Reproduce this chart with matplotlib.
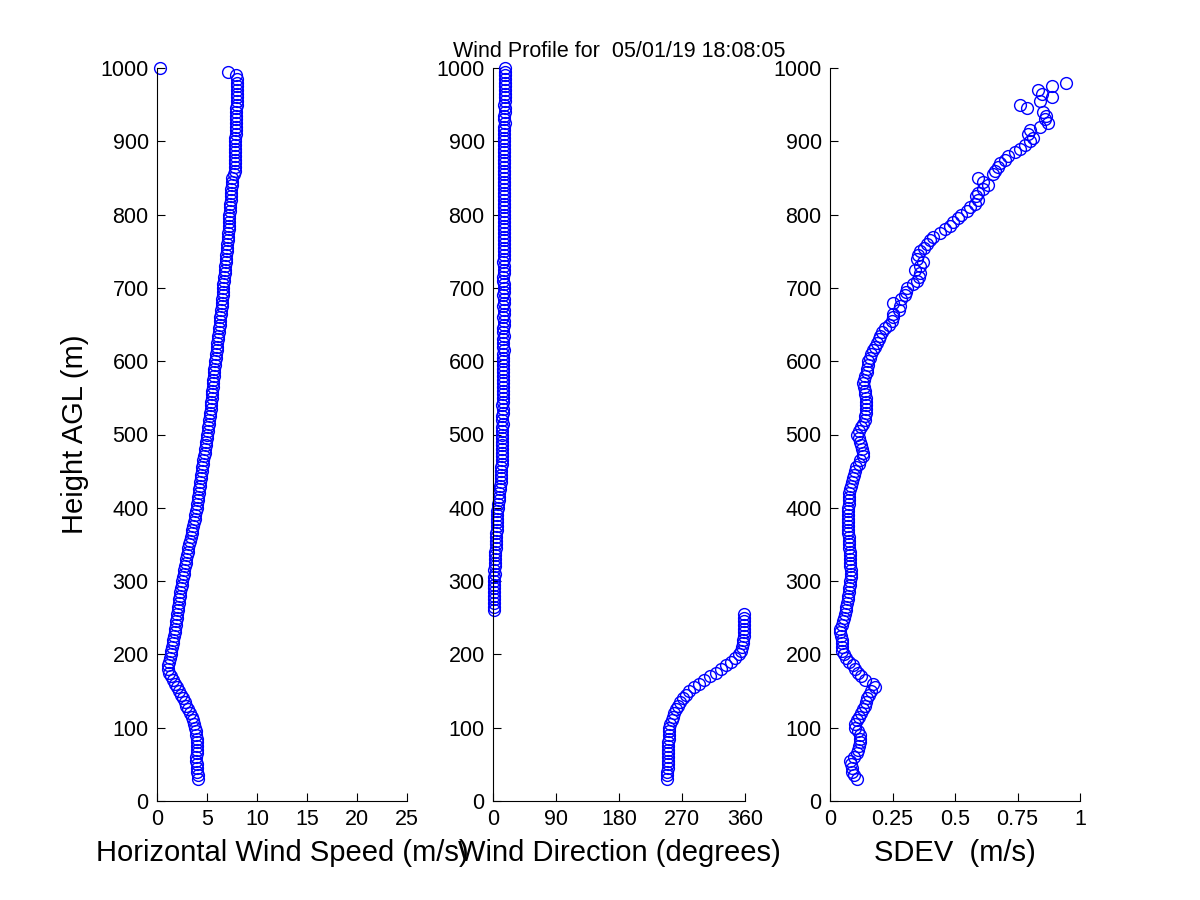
import numpy as np
import matplotlib
matplotlib.use('Agg')
import matplotlib.pyplot as plt

plt.rcParams['font.family'] = ['Liberation Sans', 'DejaVu Sans']

##DATA##########################################################################
title = 'Wind Profile for  05/01/19 18:08:05'

# range gates (m AGL), 5 m apart
heights = np.arange(30, 1001, 5)

speed = [
    4.1, 4.1, 4.0, 4.0, 4.0, 3.9, 3.9, 4.0, 4.0, 4.0,
    4.0, 4.0, 3.9, 3.9, 3.8, 3.7, 3.6, 3.5, 3.3, 3.1,
    2.9, 2.8, 2.6, 2.4, 2.2, 2.0, 1.8, 1.6, 1.4, 1.2,
    1.1, 1.1, 1.2, 1.3, 1.4, 1.4, 1.5, 1.6, 1.6, 1.7,
    1.8, 1.8, 1.9, 1.9, 2.0, 2.0, 2.1, 2.1, 2.2, 2.2,
    2.3, 2.3, 2.4, 2.5, 2.5, 2.6, 2.7, 2.7, 2.8, 2.9,
    2.9, 3.0, 3.1, 3.1, 3.2, 3.3, 3.4, 3.5, 3.5, 3.6,
    3.7, 3.8, 3.8, 3.9, 4.0, 4.0, 4.1, 4.1, 4.2, 4.2,
    4.3, 4.3, 4.4, 4.4, 4.5, 4.5, 4.6, 4.6, 4.7, 4.8,
    4.8, 4.9, 4.9, 5.0, 5.0, 5.1, 5.1, 5.2, 5.2, 5.3,
    5.3, 5.4, 5.4, 5.4, 5.5, 5.5, 5.5, 5.6, 5.6, 5.6,
    5.7, 5.7, 5.7, 5.8, 5.8, 5.9, 5.9, 6.0, 6.0, 6.0,
    6.1, 6.1, 6.2, 6.2, 6.3, 6.3, 6.3, 6.4, 6.4, 6.5,
    6.5, 6.5, 6.6, 6.6, 6.6, 6.6, 6.7, 6.7, 6.8, 6.8,
    6.8, 6.9, 6.9, 6.9, 7.0, 7.0, 7.0, 7.1, 7.1, 7.1,
    7.2, 7.2, 7.2, 7.2, 7.2, 7.3, 7.3, 7.3, 7.4, 7.4,
    7.4, 7.4, 7.5, 7.5, 7.5, 7.7, 7.8, 7.8, 7.8, 7.8,
    7.8, 7.8, 7.8, 7.8, 7.8, 7.8, 7.9, 7.9, 7.9, 7.9,
    7.9, 7.9, 7.9, 7.9, 8.0, 8.0, 8.0, 8.0, 8.0, 8.0,
    8.0, 8.0, 7.9, 7.1, 0.3,
]

direction = [
    249, 249, 249, 250, 250, 250, 250, 250, 250, 250,
    250, 251, 251, 251, 252, 253, 255, 257, 259, 261,
    264, 267, 271, 275, 280, 287, 294, 301, 310, 318,
    326, 333, 340, 346, 351, 354, 356, 357, 357, 358,
    358, 358, 358, 358, 358, 358, 1, 1, 1, 1.5,
    2, 2, 2, 2, 2, 2, 3, 2, 3, 3,
    3, 3, 3.5, 4, 4, 4, 4, 4.5, 5, 5,
    5, 5.5, 6, 6, 7, 7, 8, 8, 9, 10,
    10, 11, 11, 12, 12, 12, 13, 13, 13, 13,
    13, 13, 13, 13, 13, 13, 13, 14, 13, 13,
    14, 14, 13, 14, 14, 14, 14, 14, 14, 14,
    14, 14, 14, 14, 14, 14, 14, 15, 14, 14,
    14, 15, 14, 14, 15, 15, 14, 15, 15, 14,
    15, 15, 14, 15, 15, 15, 14, 14, 15, 15,
    15, 14, 15, 15, 15, 15, 16, 15, 15, 15,
    15, 15, 16, 15, 15, 15, 16, 16, 15, 15,
    16, 16, 15, 16, 16, 16, 16, 16, 16, 16,
    16, 16, 16, 16, 16, 16, 16, 16, 16, 17,
    16, 16, 17, 17, 16, 17, 17, 17, 17, 17,
    17, 17, 17, 17, 17,
]

sdev = [
    0.107, 0.095, 0.087, 0.087, 0.085, 0.080, 0.095, 0.107, 0.112, 0.117,
    0.120, 0.120, 0.118, 0.110, 0.100, 0.100, 0.107, 0.115, 0.125, 0.133,
    0.140, 0.145, 0.148, 0.155, 0.165, 0.178, 0.170, 0.140, 0.125, 0.113,
    0.100, 0.090, 0.075, 0.065, 0.055, 0.048, 0.047, 0.047, 0.046, 0.044,
    0.040, 0.040, 0.048, 0.053, 0.056, 0.060, 0.062, 0.065, 0.067, 0.070,
    0.073, 0.076, 0.077, 0.079, 0.080, 0.082, 0.083, 0.083, 0.081, 0.080,
    0.080, 0.079, 0.078, 0.077, 0.076, 0.075, 0.074, 0.073, 0.073, 0.073,
    0.073, 0.072, 0.073, 0.073, 0.073, 0.074, 0.075, 0.076, 0.077, 0.080,
    0.083, 0.086, 0.090, 0.095, 0.100, 0.105, 0.115, 0.120, 0.133, 0.133,
    0.127, 0.125, 0.120, 0.115, 0.107, 0.115, 0.125, 0.133, 0.140, 0.140,
    0.142, 0.144, 0.144, 0.143, 0.142, 0.140, 0.140, 0.136, 0.133, 0.135,
    0.140, 0.147, 0.148, 0.150, 0.152, 0.158, 0.165, 0.170, 0.178, 0.188,
    0.195, 0.200, 0.208, 0.220, 0.235, 0.248, 0.253, 0.253, 0.275, 0.280,
    0.250, 0.285, 0.300, 0.305, 0.307, 0.330, 0.347, 0.355, 0.360, 0.340,
    0.360, 0.373, 0.347, 0.350, 0.360, 0.375, 0.387, 0.400, 0.413, 0.440,
    0.460, 0.480, 0.493, 0.510, 0.525, 0.547, 0.560, 0.580, 0.590, 0.585,
    0.590, 0.610, 0.633, 0.610, 0.593, 0.653, 0.660, 0.670, 0.680, 0.700,
    0.713, 0.740, 0.760, 0.780, 0.800, 0.813, 0.790, 0.800, 0.840, 0.873,
    0.860, 0.865, 0.853, 0.787, 0.760, 0.840, 0.888, 0.848, 0.832, 0.888,
    0.944, np.nan, np.nan, np.nan, np.nan,
]

speed_ticks = [0, 5, 10, 15, 20, 25]
dir_ticks = [0, 90, 180, 270, 360]
sdev_ticks = [0, 0.25, 0.5, 0.75, 1]
sdev_labels = ['0', '0.25', '0.5', '0.75', '1']
height_ticks = list(range(0, 1001, 100))
################################################################################

fig = plt.figure(figsize=(12, 9), dpi=100)
fig.patch.set_facecolor('white')

left_px = [157, 493, 830]
width_px = [250, 252, 250]
bottom = 1 - 801 / 900.
height = (801 - 68) / 900.

panels = [
    (speed, (0, 25), speed_ticks, None, 'Horizontal Wind Speed (m/s)'),
    (direction, (0, 360), dir_ticks, None, 'Wind Direction (degrees)'),
    (sdev, (0, 1), sdev_ticks, sdev_labels, 'SDEV  (m/s)'),
]

axes = []
for i, (vals, xlim, xticks, xlabels, xlabel) in enumerate(panels):
    ax = fig.add_axes([left_px[i] / 1200., bottom, width_px[i] / 1200., height])
    ax.plot(vals, heights, 'o', mfc='none', mec='blue', ms=8.5, mew=1.0,
            clip_on=False)
    ax.set_xlim(*xlim)
    ax.set_ylim(0, 1000)
    ax.set_xticks(xticks)
    if xlabels is not None:
        ax.set_xticklabels(xlabels)
    ax.set_yticks(height_ticks)
    ax.spines['top'].set_visible(False)
    ax.spines['right'].set_visible(False)
    ax.tick_params(direction='in', length=6, width=0.8, labelsize=15.5,
                   pad=6)
    ax.set_xlabel(xlabel, fontsize=21, labelpad=6)
    axes.append(ax)

axes[0].set_ylabel('Height AGL (m)', fontsize=21, labelpad=8)
axes[1].set_title(title, fontsize=15.5, pad=8)

fig.savefig('out.png', dpi=100, facecolor='white')
